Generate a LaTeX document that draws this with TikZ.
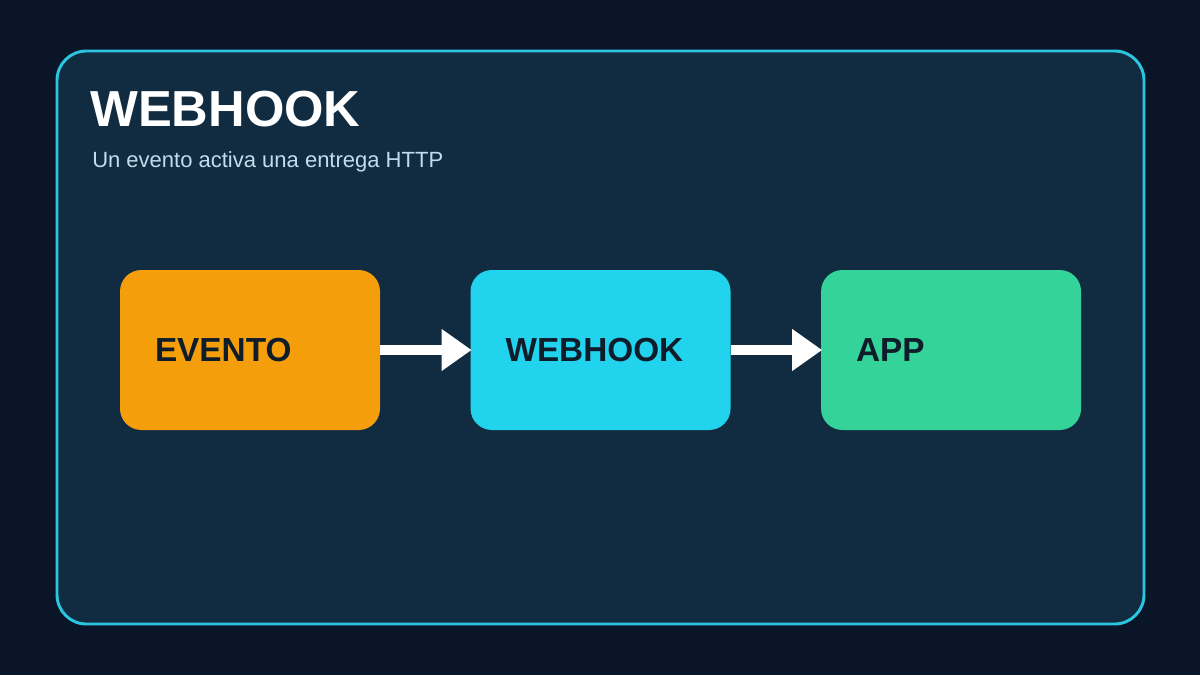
\documentclass[tikz,border=0pt]{standalone}
\usepackage{fontspec}
\setmainfont{Liberation Sans}
\usetikzlibrary{positioning,arrows.meta}
\definecolor{fondo}{HTML}{0A1628}
\definecolor{panel}{HTML}{112B40}
\definecolor{borde}{HTML}{2CC5E0}
\definecolor{naranja}{HTML}{F59E0B}
\definecolor{cian}{HTML}{22D3EE}
\definecolor{verde}{HTML}{34D399}
\definecolor{tinta}{HTML}{0F1D2B}
\definecolor{subt}{HTML}{BFDDEA}
\tikzset{
  caja/.style={rounded corners=16pt, minimum width=195pt, minimum height=120pt,
    text width=142.5pt, align=left, inner xsep=26pt, text=tinta,
    font=\fontsize{25}{30}\selectfont\bfseries},
  flecha/.style={draw=white, line width=7.5pt, -{Triangle[length=22.5pt,width=30pt]}, shorten >=-1pt}
}
\begin{document}
\begin{tikzpicture}[x=0.75pt,y=-0.75pt]
	\fill[fondo] (0,0) rectangle (1200,675);
	\draw[fill=panel, draw=borde, line width=2.2pt, rounded corners=22pt] (57,51) rectangle (1144,624);

	\node[anchor=base west, inner sep=0, text=white, font=\fontsize{38}{44}\selectfont\bfseries] (titulo) at (90,126) {WEBHOOK};
	\node[anchor=base west, inner sep=0, text=subt, font=\fontsize{16.5}{20}\selectfont] (sub) at (92,167) {Un evento activa una entrega HTTP};

	\node[caja, fill=naranja] (evento) at (250,350) {EVENTO};
	\node[caja, fill=cian, right=67.5pt of evento] (webhook) {WEBHOOK};
	\node[caja, fill=verde, right=67.5pt of webhook] (app) {APP};

	\draw[flecha] (evento) -- (webhook);
	\draw[flecha] (webhook) -- (app);
\end{tikzpicture}
\end{document}
